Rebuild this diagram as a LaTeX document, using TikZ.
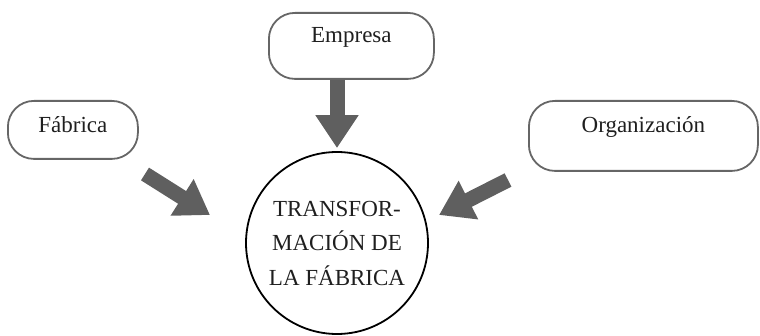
\documentclass[tikz,border=0pt]{standalone}
\usepackage{fontspec}
\setmainfont{Liberation Serif}
\usetikzlibrary{arrows.meta,positioning}
\definecolor{borde}{HTML}{666666}
\definecolor{gris}{HTML}{5F5F5F}
\tikzset{
  caja/.style={draw=borde,line width=1.8pt,rounded corners=26pt,inner sep=0pt,anchor=north west,text=black!88},
  circulo/.style={circle,draw,line width=1.8pt,minimum size=182pt,inner sep=0pt,align=center,text=black!88},
  flecha/.style={draw=gris,line width=15pt,-{Triangle[length=33pt,width=41pt,fill=gris]}},
}

\begin{document}
\begin{tikzpicture}[x=1pt,y=-1pt,font=\fontsize{23}{34.5}\selectfont]
  \useasboundingbox (0,0) rectangle (760,336);
  \node[caja,minimum width=130pt,text height=32pt,text depth=26pt] (fab) at (7,100) {Fábrica};
  \node[caja,minimum width=165pt,text height=30pt,text depth=36pt] (emp) at (268,12) {Empresa};
  \node[caja,minimum width=229pt,text height=32pt,text depth=38pt] (org) at (528,100) {Organización};
  \node[circulo] (tr) at (337,243) {TRANSFOR-\\MACIÓN DE\\LA FÁBRICA};
  \coordinate (fabcola) at (145,174);
  \coordinate (fabpunta) at (210,215);
  \coordinate (orgcola) at (508,180);
  \coordinate (orgpunta) at (439,215);
  \draw[flecha] (emp.south -| tr.north) -- ([yshift=3pt]tr.north);
  \draw[flecha] (fabcola) -- (fabpunta);
  \draw[flecha] (orgcola) -- (orgpunta);
\end{tikzpicture}
\end{document}
